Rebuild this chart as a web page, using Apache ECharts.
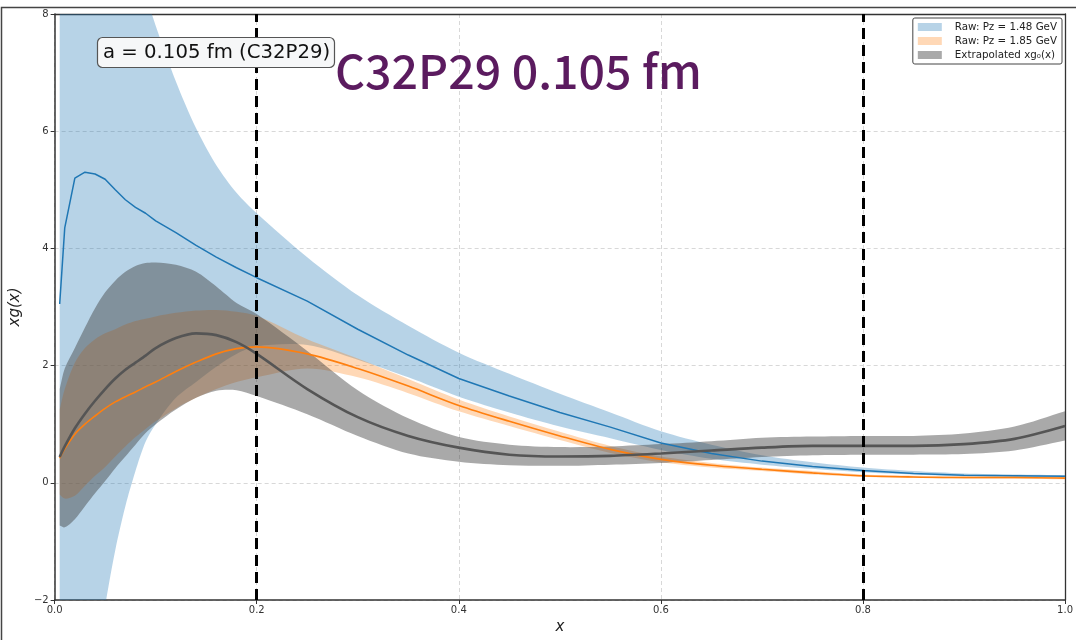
<!DOCTYPE html>
<html>
<head>
<meta charset="utf-8">
<title>xg(x) C32P29</title>
<script src="https://cdn.jsdelivr.net/npm/echarts@6/dist/echarts.min.js"></script>
<style>
  html, body { margin: 0; padding: 0; background: #fff; }
  #main { width: 1076px; height: 640px; }
</style>
</head>
<body>
<div id="main"></div>
<script>
// x grid shared by every curve
var xs = [0.005, 0.01, 0.02, 0.03, 0.04, 0.05, 0.06, 0.07, 0.08, 0.09, 0.1, 0.12, 0.14, 0.16, 0.18, 0.2,
          0.25, 0.3, 0.35, 0.4, 0.45, 0.5, 0.55, 0.6, 0.65, 0.7, 0.75, 0.8, 0.85, 0.9, 0.95, 1.0];

// Raw: Pz = 1.48 GeV
var blueMid = [3.05, 4.35, 5.2, 5.3, 5.27, 5.18, 5.0, 4.83, 4.7, 4.6, 4.47, 4.27, 4.05, 3.85, 3.67, 3.5,
               3.1, 2.62, 2.18, 1.78, 1.48, 1.2, 0.95, 0.68, 0.5, 0.37, 0.28, 0.21, 0.16, 0.13, 0.12, 0.11];
var blueUp  = [20, 18, 16, 14.5, 13.3, 12.2, 11.1, 10.0, 9.0, 8.35, 7.8, 6.85, 6.05, 5.42, 4.95, 4.6,
               3.85, 3.2, 2.68, 2.22, 1.86, 1.52, 1.2, 0.88, 0.65, 0.47, 0.35, 0.26, 0.2, 0.16, 0.14, 0.13];
var blueLow = [-14, -11, -7, -4.8, -3.2, -2.1, -1.15, -0.4, 0.2, 0.7, 1.0, 1.45, 1.72, 1.98, 2.2, 2.33,
               2.35, 2.1, 1.8, 1.47, 1.2, 0.96, 0.76, 0.56, 0.41, 0.31, 0.24, 0.18, 0.14, 0.11, 0.1, 0.09];

// Raw: Pz = 1.85 GeV
var orangeMid = [0.42, 0.58, 0.83, 1.0, 1.14, 1.27, 1.38, 1.47, 1.55, 1.64, 1.72, 1.9, 2.06, 2.2, 2.29, 2.32,
                 2.2, 1.95, 1.65, 1.32, 1.05, 0.8, 0.57, 0.4, 0.3, 0.23, 0.17, 0.12, 0.1, 0.09, 0.09, 0.08];
var orangeUp  = [1.25, 1.6, 2.05, 2.3, 2.45, 2.55, 2.62, 2.7, 2.76, 2.8, 2.84, 2.9, 2.94, 2.95, 2.92, 2.85,
                 2.45, 2.12, 1.77, 1.42, 1.13, 0.87, 0.63, 0.45, 0.34, 0.26, 0.2, 0.14, 0.12, 0.11, 0.11, 0.1];
var orangeLow = [-0.2, -0.27, -0.22, -0.05, 0.12, 0.27, 0.45, 0.62, 0.78, 0.92, 1.05, 1.27, 1.45, 1.6, 1.72, 1.8,
                 1.95, 1.8, 1.53, 1.22, 0.97, 0.73, 0.51, 0.35, 0.26, 0.2, 0.14, 0.1, 0.08, 0.07, 0.07, 0.06];

// Extrapolated xg0(x)
var grayMid = [0.44, 0.62, 0.93, 1.18, 1.4, 1.6, 1.78, 1.93, 2.05, 2.17, 2.3, 2.47, 2.55, 2.52, 2.4, 2.2,
               1.6, 1.12, 0.8, 0.6, 0.48, 0.45, 0.46, 0.5, 0.55, 0.6, 0.63, 0.63, 0.63, 0.66, 0.75, 0.97];
var grayUp  = [1.6, 1.95, 2.3, 2.65, 2.98, 3.25, 3.45, 3.6, 3.7, 3.75, 3.76, 3.72, 3.6, 3.35, 3.07, 2.88,
               2.25, 1.58, 1.1, 0.78, 0.65, 0.61, 0.62, 0.66, 0.71, 0.77, 0.79, 0.8, 0.8, 0.84, 0.96, 1.22];
var grayLow = [-0.73, -0.76, -0.62, -0.4, -0.18, 0.03, 0.25, 0.45, 0.65, 0.85, 1.0, 1.25, 1.45, 1.57, 1.58, 1.48,
               1.17, 0.8, 0.5, 0.36, 0.3, 0.29, 0.31, 0.34, 0.39, 0.44, 0.47, 0.48, 0.48, 0.49, 0.55, 0.72];

var cutLines = [0.2, 0.8];

var names = ['Raw: Pz = 1.48 GeV', 'Raw: Pz = 1.85 GeV', 'Extrapolated xg\u2080(x)'];

function pairs(vals) {
    return xs.map(function (x, i) { return [x, vals[i]]; });
}

// one filled polygon between low and up, drawn through the axes with api.coord
function band(name, up, low, fill) {
    return {
        name: name, type: 'custom', coordinateSystem: 'cartesian2d',
        data: xs.map(function (x, i) { return [x, low[i], up[i]]; }),
        encode: { x: 0, y: [1, 2] },
        itemStyle: { color: fill },
        silent: true, z: 1,
        renderItem: function (params, api) {
            if (params.dataIndex !== 0) return null;
            var top = [], bot = [];
            for (var i = 0; i < xs.length; i++) {
                top.push(api.coord([xs[i], up[i]]));
                bot.push(api.coord([xs[i], low[i]]));
            }
            bot.reverse();
            // doubled end points keep the corners sharp when smoothing
            var pts = [top[0]].concat(top, [top[top.length - 1], bot[0]], bot, [bot[bot.length - 1]]);
            var cs = params.coordSys;
            return {
                type: 'polygon',
                shape: { points: pts, smooth: 0.3 },
                style: { fill: fill },
                clipPath: { type: 'rect', shape: { x: cs.x, y: cs.y, width: cs.width, height: cs.height } }
            };
        }
    };
}

var myChart = echarts.init(document.getElementById('main'));

var series = [
    band(names[0], blueUp, blueLow, 'rgba(31,119,180,0.32)'),
    band(names[1], orangeUp, orangeLow, 'rgba(255,127,14,0.3)'),
    band(names[2], grayUp, grayLow, 'rgba(64,64,64,0.45)'),
    {
        name: 'blueLine', type: 'line', data: pairs(blueMid), symbol: 'none',
        lineStyle: { color: '#1f77b4', width: 1.5 }, z: 3
    },
    {
        name: 'orangeLine', type: 'line', data: pairs(orangeMid), symbol: 'none', smooth: 0.3,
        lineStyle: { color: '#ff7f0e', width: 1.6 }, z: 3
    },
    {
        name: 'grayLine', type: 'line', data: pairs(grayMid), symbol: 'none', smooth: 0.3,
        lineStyle: { color: '#555555', width: 2.6 }, z: 4,
        markLine: {
            silent: true, symbol: 'none', label: { show: false },
            lineStyle: { color: '#000', width: 3, type: [11, 6] },
            data: cutLines.map(function (v) { return { xAxis: v }; })
        }
    }
];

var axisFont = { fontFamily: 'DejaVu Sans', fontSize: 10, color: '#333' };
var frameLine = { show: true, onZero: false, lineStyle: { color: '#333', width: 1.3 } };

var option = {
    animation: false,
    backgroundColor: '#fff',
    grid: { left: 53, right: 9, top: 14, bottom: 38 },
    title: [
        {
            text: 'a = 0.105 fm (C32P29)',
            left: 97, top: 37,
            padding: [6, 5, 5, 6],
            backgroundColor: '#f6f7f8',
            borderColor: '#555', borderWidth: 1.2, borderRadius: 5,
            textStyle: { fontFamily: 'DejaVu Sans', fontSize: 19.7, fontWeight: 'normal', color: '#111' }
        },
        {
            text: 'C32P29 0.105 fm',
            left: 335, top: 48,
            padding: 0,
            textStyle: { fontFamily: 'Noto Sans CJK SC', fontSize: 46.5, fontWeight: 500, color: '#5b1b5f' }
        }
    ],
    legend: {
        orient: 'vertical',
        right: 14, top: 18,
        data: names,
        icon: 'rect', itemWidth: 24, itemHeight: 8, itemGap: 4,
        padding: [4, 5],
        borderColor: '#444', borderWidth: 1, borderRadius: 2,
        backgroundColor: '#fff',
        textStyle: { fontFamily: 'DejaVu Sans', fontSize: 10.3, color: '#222', padding: [0, 0, 0, 8] }
    },
    xAxis: [
        {
            type: 'value', min: 0, max: 1, interval: 0.2,
            name: 'x', nameLocation: 'middle', nameGap: 20,
            nameTextStyle: { fontFamily: 'DejaVu Sans', fontSize: 15, fontStyle: 'italic', color: '#222' },
            axisLine: { show: true, onZero: false, lineStyle: { color: '#333', width: 1.5 } },
            axisTick: { show: true, length: 4, lineStyle: { color: '#333' } },
            axisLabel: Object.assign({ margin: 5, formatter: function (v) { return v.toFixed(1); } }, axisFont),
            splitLine: { show: true, lineStyle: { color: '#d8d8d8', type: [4, 3] } }
        },
        {
            type: 'value', min: 0, max: 1, position: 'top',
            axisLine: frameLine, axisTick: { show: false }, axisLabel: { show: false }, splitLine: { show: false }
        }
    ],
    yAxis: [
        {
            type: 'value', min: -2, max: 8, interval: 2,
            name: 'xg(x)', nameLocation: 'middle', nameGap: 30,
            nameTextStyle: { fontFamily: 'DejaVu Sans', fontSize: 15, fontStyle: 'italic', color: '#222' },
            axisLine: { show: true, onZero: false, lineStyle: { color: '#333', width: 1.5 } },
            axisTick: { show: true, length: 4, lineStyle: { color: '#333' } },
            axisLabel: Object.assign({
                margin: 6,
                formatter: function (v) { return v < 0 ? '\u2212' + Math.abs(v) : String(v); }
            }, axisFont),
            splitLine: { show: true, lineStyle: { color: '#d8d8d8', type: [4, 3] } }
        },
        {
            type: 'value', min: -2, max: 8, position: 'right',
            axisLine: frameLine, axisTick: { show: false }, axisLabel: { show: false }, splitLine: { show: false }
        }
    ],
    graphic: [
        {
            type: 'rect', silent: true, z: -1,
            shape: { x: 1.5, y: 7.5, width: 1100, height: 700 },
            style: { fill: 'none', stroke: '#444', lineWidth: 1.5 }
        }
    ],
    series: series
};
myChart.setOption(option);
</script>
</body>
</html>
